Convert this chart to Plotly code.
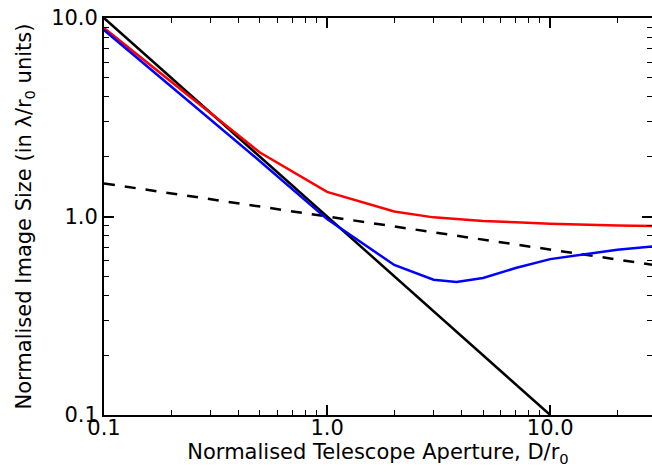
import numpy as np
import plotly.graph_objects as go

# Normalised aperture D/r0 sample points and image sizes (lambda/r0 units)
red_x = [0.1, 0.5, 1.0, 2.0, 3.0, 4.0, 5.0, 7.0, 10.0, 20.0, 30.0]
red_y = [8.9, 2.1, 1.33, 1.06, 0.99, 0.965, 0.95, 0.935, 0.92, 0.90, 0.895]

blue_x = [0.1, 0.5, 1.0, 2.0, 3.0, 3.8, 5.0, 7.0, 10.0, 15.0, 20.0, 30.0]
blue_y = [8.7, 1.9, 0.97, 0.57, 0.48, 0.468, 0.49, 0.55, 0.61, 0.65, 0.68, 0.71]

# Diffraction limit (lambda/D) and seeing-type power law
diff_x = [0.1, 10.0]
diff_y = [10.0, 0.1]

power_x = [0.1, 30.0]
power_y = [0.1 ** (-1 / 6), 30.0 ** (-1 / 6)]

x_tickvals = [0.1, 1.0, 10.0]
x_ticktext = ["0.1", "1.0", "10.0"]
y_tickvals = [0.1, 1.0, 10.0]
y_ticktext = ["0.1", "1.0", "10.0"]

# minor ticks at 2..9 within each decade
minor_vals = [m * 10.0 ** e for e in (-1, 0, 1) for m in range(2, 10)]

font = dict(family="DejaVu Sans", size=21, color="black")

fig = go.Figure()
fig.add_trace(go.Scatter(x=diff_x, y=diff_y, mode="lines",
                         line=dict(color="black", width=2.5)))
fig.add_trace(go.Scatter(x=power_x, y=power_y, mode="lines",
                         line=dict(color="black", width=2.5, dash="11px,10px")))
fig.add_trace(go.Scatter(x=red_x, y=red_y, mode="lines",
                         line=dict(color="#ff0000", width=2.5)))
fig.add_trace(go.Scatter(x=blue_x, y=blue_y, mode="lines",
                         line=dict(color="#0000ff", width=2.5)))

axis_common = dict(
    type="log",
    showgrid=False,
    zeroline=False,
    showline=True,
    linecolor="black",
    linewidth=1.8,
    mirror="ticks",
    ticks="inside",
    ticklen=10,
    tickwidth=1.5,
    tickcolor="black",
    tickfont=font,
    minor=dict(ticks="inside", ticklen=5, tickwidth=1.3, tickcolor="black",
               showgrid=False, tickvals=minor_vals),
)

fig.update_xaxes(
    **axis_common,
    range=[-1, np.log10(28.6)],
    tickvals=x_tickvals,
    ticktext=x_ticktext,
    ticklabelstandoff=-7,
    title=dict(text="Normalised Telescope Aperture, D/r<sub>0</sub>", font=font, standoff=0),
)
fig.update_yaxes(
    **axis_common,
    range=[-1, 1],
    tickvals=y_tickvals,
    ticktext=y_ticktext,
    title=dict(text="Normalised Image Size (in λ/r<sub>0</sub> units)", font=font, standoff=14),
)

fig.update_layout(
    width=652,
    height=473,
    margin=dict(l=104, r=0, t=18, b=58, autoexpand=False),
    paper_bgcolor="white",
    plot_bgcolor="white",
    showlegend=False,
)

fig.write_html("out.html")
